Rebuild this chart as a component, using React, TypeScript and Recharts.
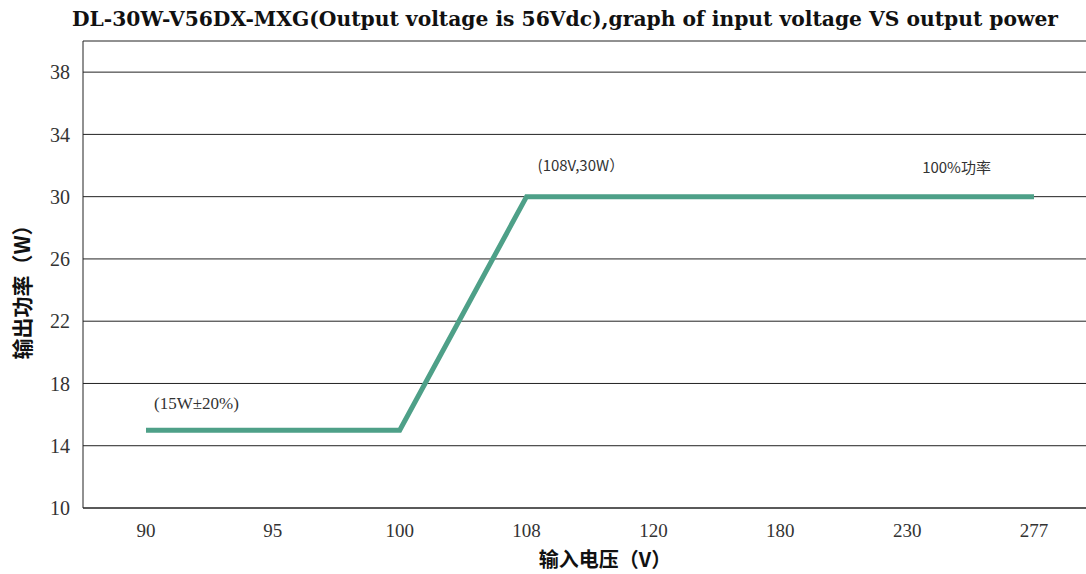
import React from "react";
import { LineChart, Line, XAxis, YAxis, CartesianGrid, ReferenceDot } from "recharts";

const categories = ["90", "95", "100", "108", "120", "180", "230", "277"];
const powerValues = [15, 15, 15, 30, 30, 30, 30, 30];
const yTicks = [10, 14, 18, 22, 26, 30, 34, 38];
const titleText = "DL-30W-V56DX-MXG(Output voltage is 56Vdc),graph of input voltage VS output power";
const xLabel = "输入电压（V）";
const yLabel = "输出功率（W）";
const annotations = [
  { x: "108", y: 30, text: "(108V,30W）", dx: 11, dy: -32, size: 15, font: "'Noto Sans CJK SC', 'Noto Sans', sans-serif" },
  { x: "230", y: 30, text: "100%功率", dx: 15, dy: -30, size: 15, font: "'Noto Sans CJK SC', 'Noto Sans', sans-serif" },
  { x: "90", y: 15, text: "(15W±20%)", dx: 8, dy: -27, size: 17, font: "'Liberation Serif', 'Noto Sans CJK SC', serif" },
];

const data = categories.map((c, i) => ({ v: c, p: powerValues[i] }));

const tickFont = "'Liberation Serif', 'DejaVu Serif', serif";

export default function App() {
  return (
    <div style={{ position: "absolute", left: 0, top: 0, width: 1086, height: 574, overflow: "hidden", background: "#fff" }}>
      <svg width={1086} height={40} style={{ position: "absolute", left: 0, top: 0 }}>
        <text
          x={72}
          y={26}
          textLength={986}
          lengthAdjust="spacingAndGlyphs"
          fontFamily="'DejaVu Serif', 'Liberation Serif', serif"
          fontWeight="bold"
          fontSize={20}
          fill="#111"
        >
          {titleText}
        </text>
      </svg>
      <div style={{ position: "absolute", left: 0, top: 0 }}>
        <LineChart width={1100} height={574} data={data} margin={{ top: 41, right: 3, bottom: 36, left: 8 }}>
          <CartesianGrid horizontal vertical={false} stroke="#222" strokeOpacity={1} />
          <XAxis
            dataKey="v"
            type="category"
            height={30}
            padding={{ left: 63, right: 63 }}
            tickLine={false}
            tickSize={0}
            tickMargin={16}
            axisLine={{ stroke: "#222" }}
            tick={{ fontFamily: tickFont, fontSize: 19, fill: "#333" }}
            interval={0}
            label={{
              content: (props: any) => {
                const vb = props.viewBox;
                return (
                  <text
                    x={605}
                    y={vb.y + vb.height + 29}
                    textAnchor="middle"
                    fontFamily="'Noto Sans CJK SC', serif"
                    fontWeight="bold"
                    fontSize={20}
                    fill="#111"
                  >
                    {xLabel}
                  </text>
                );
              },
            }}
          />
          <YAxis
            type="number"
            domain={[10, 40]}
            ticks={yTicks}
            width={75}
            tickLine={false}
            tickSize={0}
            tickMargin={13}
            axisLine={{ stroke: "#222" }}
            tick={{ fontFamily: tickFont, fontSize: 20, fill: "#333" }}
            label={{
              content: () => (
                <text
                  x={0}
                  y={0}
                  transform="translate(30,287) rotate(-90)"
                  textAnchor="middle"
                  fontFamily="'Noto Sans CJK SC', serif"
                  fontWeight="bold"
                  fontSize={21}
                  fill="#111"
                >
                  {yLabel}
                </text>
              ),
            }}
          />
          <Line
            type="linear"
            dataKey="p"
            stroke="#4ea088"
            strokeWidth={5}
            dot={false}
            activeDot={false}
            isAnimationActive={false}
          />
          {annotations.map((a) => (
            <ReferenceDot
              key={a.text}
              x={a.x}
              y={a.y}
              r={0}
              fill="none"
              stroke="none"
              label={{
                content: (props: any) => {
                  const vb = props.viewBox;
                  const cx = vb.x + (vb.width || 0) / 2;
                  const cy = vb.y + (vb.height || 0) / 2;
                  return (
                    <text
                      x={cx + a.dx}
                      y={cy + a.dy}
                      dominantBaseline="central"
                      fontFamily={a.font}
                      fontSize={a.size}
                      fill="#333"
                    >
                      {a.text}
                    </text>
                  );
                },
              }}
            />
          ))}
        </LineChart>
      </div>
    </div>
  );
}
